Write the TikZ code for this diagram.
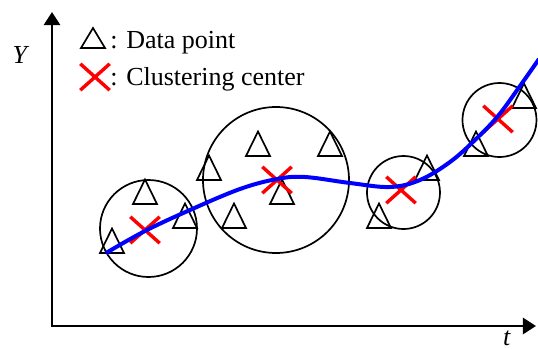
\documentclass[tikz,border=0pt]{standalone}
\usepackage{fontspec}
\setmainfont{Liberation Serif}
\usetikzlibrary{arrows.meta,shapes.misc}
\tikzset{
    %Define standard arrow tip
    >={Triangle[length=6.5pt,width=8pt]},
    %Define style for clusters
    cluster/.style={
           circle,
           draw=black, line width=0.85pt,
           inner sep=0pt},
    %Define style for clustering centres
    centre/.style={
           cross out,
           draw=red, line width=1.7pt,
           minimum width=13pt,
           minimum height=11.5pt,
           inner sep=0pt},
    % Define axis style
    axis/.style={
           <->,
           line width=1.35pt},
    % Define data point style
    datapt/.style={
           draw=black, line width=0.85pt},
    % Define trend style
    trend/.style={
           draw=blue, line width=2pt}
}

\begin{document}
\begin{tikzpicture}[x=0.5pt,y=-0.5pt,font=\fontsize{13}{15}\selectfont]
    \useasboundingbox (0,0) rectangle (538,349);
    % axes
    \coordinate (origin) at (52,326);
    \coordinate (ytip) at (52,12);
    \coordinate (xtip) at (536,326);
    \draw[axis] (ytip) -- (origin) -- (xtip);
    \node (ylab) at (21,55) {\textit{Y}};
    \node (tlab) at (507,338) {\textit{t}};
    % legend
    \draw[datapt] (81,48) -- (93,28) -- (105,48) -- cycle;
    \node (lgpoint) [anchor=base west,inner sep=0pt] at (110,48) {: Data point};
    \node (lgcentre) [centre] at (95,77) {};
    \node (lgclust) [anchor=base west,inner sep=0pt] at (110,85) {: Clustering center};
    % clusters
    \node (clust1) [cluster,minimum size=48.5pt] at (148.5,228.5) {};
    \node (clust2) [cluster,minimum size=73pt] at (276,180) {};
    \node (clust3) [cluster,minimum size=36.5pt] at (403.5,192.5) {};
    \node (clust4) [cluster,minimum size=37pt] at (499.5,120) {};
    % data points (base centre)
    \foreach \x/\y in {112/253, 145/204, 185/228, 209/180, 234/228, 258/156,
                       330/156, 282/204, 379/228, 427/180, 476/156, 524/108}
      \draw[datapt] (\x-12,\y) -- (\x,\y-24.5) -- (\x+12,\y) -- cycle;
    % clustering centres
    \node (cen1) [centre] at (145,230) {};
    \node (cen2) [centre] at (277,180) {};
    \node (cen3) [centre] at (401,190) {};
    \node (cen4) [centre] at (498,119) {};
    % trend
    \draw[trend] plot[smooth,tension=0.6] coordinates {(106,253) (145,231)
      (190,210) (240,189) (277,179) (305,177) (350,183) (390,187) (420,180)
      (450,162) (475,140) (498,116) (520,86) (539,59)};
\end{tikzpicture}
\end{document}
